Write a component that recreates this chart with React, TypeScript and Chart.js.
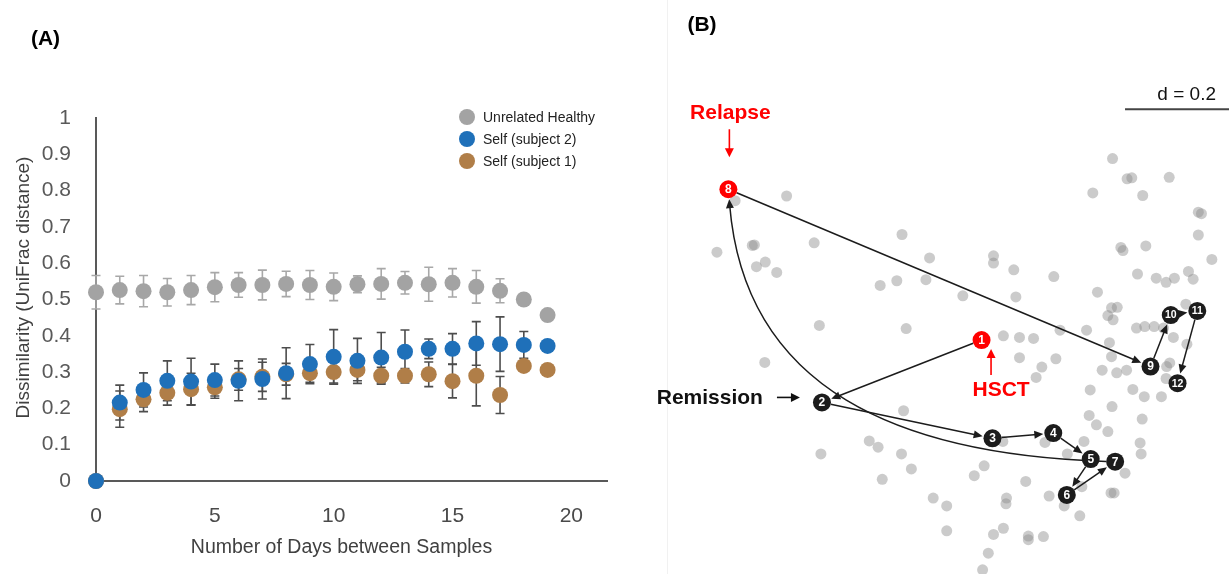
import { useEffect, useRef } from "react";
import { Chart, registerables } from "chart.js";

Chart.register(...registerables);

// ---------- (A) dissimilarity versus time between samples ----------
const days = [0, 1, 2, 3, 4, 5, 6, 7, 8, 9, 10, 11, 12, 13, 14, 15, 16, 17, 18, 19];
const xTickValues = [0, 5, 10, 15, 20];
const yTickValues = [0, 0.1, 0.2, 0.3, 0.4, 0.5, 0.6, 0.7, 0.8, 0.9, 1];

const healthyMean = [0.52, 0.526, 0.523, 0.52, 0.526, 0.534, 0.54, 0.54, 0.543, 0.54, 0.535, 0.542, 0.543, 0.546, 0.542, 0.546, 0.535, 0.524, 0.5, 0.457];
const healthySd = [0.046, 0.038, 0.043, 0.038, 0.04, 0.04, 0.034, 0.041, 0.035, 0.04, 0.038, 0.023, 0.042, 0.031, 0.047, 0.039, 0.045, 0.033, null, null];

const subject2Mean = [0, 0.216, 0.251, 0.276, 0.274, 0.278, 0.276, 0.281, 0.297, 0.322, 0.342, 0.331, 0.34, 0.356, 0.364, 0.364, 0.379, 0.377, 0.375, 0.372];
const subject2Sd = [null, 0.048, 0.047, 0.055, 0.064, 0.044, 0.055, 0.055, 0.07, 0.054, 0.075, 0.062, 0.069, 0.06, 0.027, 0.042, 0.06, 0.075, 0.037, null];

const subject1Mean = [0, 0.198, 0.225, 0.243, 0.253, 0.258, 0.28, 0.287, 0.294, 0.297, 0.3, 0.306, 0.29, 0.29, 0.294, 0.275, 0.29, 0.237, 0.317, 0.306];
const subject1Sd = [null, 0.05, 0.034, 0.034, 0.044, 0.03, 0.03, 0.04, 0.03, 0.025, 0.03, 0.03, 0.023, 0.02, 0.034, 0.046, 0.083, 0.051, null, null];

// ---------- (B) PCoA ordination with the patient's time course ----------
const cohortPC1 = [
  -0.421, -0.322, -0.456, -0.388, -0.384, -0.363, -0.38, -0.341, -0.269, -0.1, -0.047, -0.142, -0.11, -0.054, -0.259, -0.092,
  -0.364, -0.097, -0.163, -0.146, -0.256, -0.101, -0.082, -0.138, -0.04, 0.305, 0.333, 0.342, 0.414, 0.267, 0.363, 0.47,
  0.476, 0.47, 0.496, 0.321, 0.325, 0.369, 0.076, 0.076, 0.115, 0.192, 0.017, 0.119, 0.276, 0.353, 0.389, 0.408,
  0.424, 0.451, 0.46, 0.303, 0.314, 0.296, 0.306, 0.446, 0.351, 0.367, 0.385, 0.403, 0.204, 0.255, 0.095, 0.126,
  0.153, 0.126, 0.196, 0.169, 0.158, 0.299, 0.303, 0.285, 0.313, 0.332, 0.422, 0.448, 0.415, 0.409, 0.408, 0.399,
  0.344, 0.366, 0.262, 0.304, 0.26, 0.274, 0.296, 0.362, 0.358, 0.36, 0.329, 0.25, 0.218, 0.175, 0.094, 0.058,
  0.039, 0.138, -0.014, 0.101, 0.1, 0.183, 0.212, 0.246, 0.302, 0.308, 0.242, -0.014, 0.076, 0.095, 0.143, 0.143,
  0.172, 0.066, 0.055,
];
const cohortPC2 = [
  0.164, 0.173, 0.065, 0.078, 0.079, 0.046, 0.037, 0.026, 0.083, 0.099, 0.054, 0.001, 0.01, 0.012, -0.076, -0.082,
  -0.147, -0.24, -0.298, -0.31, -0.323, -0.323, -0.352, -0.372, -0.408, 0.245, 0.206, 0.208, 0.209, 0.179, 0.174, 0.142,
  0.139, 0.098, 0.051, 0.074, 0.068, 0.077, 0.058, 0.044, 0.031, 0.018, -0.019, -0.021, -0.012, 0.023, 0.015, 0.007,
  0.015, 0.028, 0.013, -0.042, -0.041, -0.057, -0.065, -0.035, -0.081, -0.078, -0.078, -0.081, -0.085, -0.085, -0.096, -0.099,
  -0.101, -0.138, -0.14, -0.156, -0.176, -0.109, -0.136, -0.162, -0.167, -0.162, -0.099, -0.112, -0.148, -0.155, -0.178, -0.213,
  -0.199, -0.213, -0.2, -0.232, -0.249, -0.267, -0.28, -0.256, -0.302, -0.323, -0.36, -0.299, -0.323, -0.301, -0.299, -0.346,
  -0.365, -0.376, -0.423, -0.408, -0.419, -0.404, -0.423, -0.386, -0.398, -0.398, -0.442, -0.471, -0.478, -0.466, -0.481, -0.488,
  -0.482, -0.514, -0.546,
];

const patientSample = ["1", "2", "3", "4", "5", "6", "7", "8", "9", "10", "11", "12"];
const patientPC1 = [0.053, -0.254, 0.074, 0.191, 0.263, 0.217, 0.31, -0.434, 0.378, 0.417, 0.468, 0.43];
const patientPC2 = [-0.104, -0.224, -0.293, -0.283, -0.333, -0.402, -0.338, 0.186, -0.155, -0.056, -0.048, -0.187];
// Bezier handles (PC1, PC2) for the step that leaves sample 7
const curvedStepFrom = ["7"];
const curvedStepHandles = [[[-0.104, -0.325], [-0.402, -0.2]]];

const eventLabels = ["HSCT", "Remission", "Relapse"];
const eventSamples = ["1", "2", "8"];
const eventColors = ["#ff0000", "#111111", "#ff0000"];

const scaleBarLength = 0.2;
const scaleBarStart = [0.329, 0.34];

// ---------- styling ----------
const FONT = "'Liberation Sans', Arial, Helvetica, sans-serif";
const AXIS = "#595959";
const GRAY = "#a3a3a3";
const BLUE = "#1f70b9";
const BROWN = "#b07e48";
const TRACK = "#1c1c1c";

type AnyChart = any;

const errorBarPlugin = {
  id: "errorBars",
  beforeDatasetsDraw(chart: AnyChart) {
    const ctx = chart.ctx;
    const xs = chart.scales.x;
    const ys = chart.scales.y;
    ctx.save();
    chart.data.datasets.forEach((ds: any) => {
      const errs: (number | null)[] = ds.errors;
      ctx.strokeStyle = ds.errorColor;
      ctx.lineWidth = 1.6;
      ds.data.forEach((pt: any, i: number) => {
        const e = errs[i];
        if (e == null) return;
        const px = xs.getPixelForValue(pt.x);
        const yTop = ys.getPixelForValue(pt.y + e);
        const yBot = ys.getPixelForValue(pt.y - e);
        ctx.beginPath();
        ctx.moveTo(px, yTop);
        ctx.lineTo(px, yBot);
        ctx.moveTo(px - 4.5, yTop);
        ctx.lineTo(px + 4.5, yTop);
        ctx.moveTo(px - 4.5, yBot);
        ctx.lineTo(px + 4.5, yBot);
        ctx.stroke();
      });
    });
    ctx.restore();
  },
};

const panelADecor = {
  id: "panelADecor",
  afterDraw(chart: AnyChart) {
    const ctx = chart.ctx;
    const area = chart.chartArea;
    ctx.save();
    // legend
    ctx.font = `14px ${FONT}`;
    ctx.textAlign = "left";
    ctx.textBaseline = "middle";
    chart.data.datasets.forEach((ds: any, i: number) => {
      const cx = area.right - 140;
      const cy = area.top - 1 + i * 22;
      ctx.fillStyle = ds.backgroundColor;
      ctx.beginPath();
      ctx.arc(cx, cy, 8, 0, Math.PI * 2);
      ctx.fill();
      ctx.fillStyle = "#222";
      ctx.fillText(ds.label, cx + 16, cy + 1);
    });
    // axis titles
    ctx.fillStyle = "#404040";
    ctx.font = `19.5px ${FONT}`;
    ctx.textAlign = "center";
    ctx.textBaseline = "alphabetic";
    ctx.fillText("Number of Days between Samples", (area.left + area.right) / 2 - 10, area.bottom + 72);
    ctx.font = `19px ${FONT}`;
    ctx.save();
    ctx.translate(29, (area.top + area.bottom) / 2 - 12);
    ctx.rotate(-Math.PI / 2);
    ctx.fillText("Dissimilarity (UniFrac distance)", 0, 0);
    ctx.restore();
    // panel letter
    ctx.fillStyle = "#000";
    ctx.font = `bold 21px ${FONT}`;
    ctx.textBaseline = "middle";
    ctx.fillText("(A)", 45.5, 39);
    ctx.restore();
  },
};

function drawHead(ctx: CanvasRenderingContext2D, x: number, y: number, a: number, len: number, half: number) {
  ctx.beginPath();
  ctx.moveTo(x, y);
  ctx.lineTo(x - Math.cos(a) * len + Math.sin(a) * half, y - Math.sin(a) * len - Math.cos(a) * half);
  ctx.lineTo(x - Math.cos(a) * len - Math.sin(a) * half, y - Math.sin(a) * len + Math.cos(a) * half);
  ctx.closePath();
  ctx.fill();
}

function drawArrow(ctx: CanvasRenderingContext2D, x0: number, y0: number, x1: number, y1: number, color: string, len = 9, half = 4) {
  const a = Math.atan2(y1 - y0, x1 - x0);
  ctx.strokeStyle = color;
  ctx.fillStyle = color;
  ctx.beginPath();
  ctx.moveTo(x0, y0);
  ctx.lineTo(x1 - Math.cos(a) * len * 0.7, y1 - Math.sin(a) * len * 0.7);
  ctx.stroke();
  drawHead(ctx, x1, y1, a, len, half);
}

const R_PATIENT = 9;

const trajectoryPlugin = {
  id: "trajectory",
  beforeDatasetsDraw(chart: AnyChart) {
    const ctx = chart.ctx;
    ctx.save();
    ctx.strokeStyle = "#f1f1f1";
    ctx.lineWidth = 1;
    ctx.beginPath();
    ctx.moveTo(27.5, 0);
    ctx.lineTo(27.5, chart.height);
    ctx.stroke();
    ctx.fillStyle = "#000";
    ctx.font = `bold 21px ${FONT}`;
    ctx.textAlign = "center";
    ctx.textBaseline = "middle";
    ctx.fillText("(B)", 62, 25);
    ctx.restore();
  },
  afterDatasetDraw(chart: AnyChart, args: any) {
    if (args.index !== 1) return;
    const ctx = chart.ctx;
    const xs = chart.scales.x;
    const ys = chart.scales.y;
    const pts = patientPC1.map((v, i) => [xs.getPixelForValue(v), ys.getPixelForValue(patientPC2[i])]);
    ctx.save();
    ctx.lineWidth = 1.5;
    for (let i = 0; i < pts.length - 1; i++) {
      const [px, py] = pts[i];
      const [qx, qy] = pts[i + 1];
      const c = curvedStepFrom.indexOf(patientSample[i]);
      if (c >= 0) {
        const [h1, h2] = curvedStepHandles[c];
        const c1x = xs.getPixelForValue(h1[0]);
        const c1y = ys.getPixelForValue(h1[1]);
        const c2x = xs.getPixelForValue(h2[0]);
        const c2y = ys.getPixelForValue(h2[1]);
        const d0 = Math.hypot(c1x - px, c1y - py);
        const sx = px + ((c1x - px) / d0) * R_PATIENT;
        const sy = py + ((c1y - py) / d0) * R_PATIENT;
        const d1 = Math.hypot(c2x - qx, c2y - qy);
        const ex = qx + ((c2x - qx) / d1) * (R_PATIENT + 1);
        const ey = qy + ((c2y - qy) / d1) * (R_PATIENT + 1);
        const a = Math.atan2(ey - c2y, ex - c2x);
        ctx.strokeStyle = TRACK;
        ctx.fillStyle = TRACK;
        ctx.beginPath();
        ctx.moveTo(sx, sy);
        ctx.bezierCurveTo(c1x, c1y, c2x, c2y, ex - Math.cos(a) * 6, ey - Math.sin(a) * 6);
        ctx.stroke();
        drawHead(ctx, ex, ey, a, 9, 4);
      } else {
        const d = Math.hypot(qx - px, qy - py);
        const ux = (qx - px) / d;
        const uy = (qy - py) / d;
        drawArrow(ctx, px + ux * R_PATIENT, py + uy * R_PATIENT, qx - ux * (R_PATIENT + 1), qy - uy * (R_PATIENT + 1), TRACK);
      }
    }
    ctx.restore();
  },
  afterDatasetsDraw(chart: AnyChart) {
    const ctx = chart.ctx;
    const xs = chart.scales.x;
    const ys = chart.scales.y;
    ctx.save();
    // sample numbers
    ctx.fillStyle = "#fff";
    ctx.textAlign = "center";
    ctx.textBaseline = "middle";
    patientSample.forEach((s, i) => {
      const x = xs.getPixelForValue(patientPC1[i]);
      const y = ys.getPixelForValue(patientPC2[i]);
      ctx.font = `bold ${s.length > 1 ? 10.5 : 12}px ${FONT}`;
      ctx.fillText(s, x, y + 0.5);
    });
    // clinical events
    ctx.lineWidth = 1.6;
    eventLabels.forEach((label, k) => {
      const i = patientSample.indexOf(eventSamples[k]);
      const x = xs.getPixelForValue(patientPC1[i]);
      const y = ys.getPixelForValue(patientPC2[i]);
      const color = eventColors[k];
      ctx.fillStyle = color;
      ctx.font = `bold 21px ${FONT}`;
      ctx.textBaseline = "middle";
      if (label === "Relapse") {
        ctx.textAlign = "center";
        ctx.fillText(label, x + 2, y - 76);
        drawArrow(ctx, x + 1, y - 60, x + 1, y - 32, color, 9, 4.5);
      } else if (label === "HSCT") {
        ctx.textAlign = "center";
        ctx.fillText(label, x + 19.5, y + 50);
        drawArrow(ctx, x + 9.5, y + 35, x + 9.5, y + 9, color, 9, 4.5);
      } else {
        ctx.textAlign = "right";
        ctx.fillStyle = color;
        ctx.fillText(label, x - 59, y - 4);
        drawArrow(ctx, x - 45, y - 5, x - 22, y - 5, color, 9, 4.5);
      }
    });
    // scale bar
    const bx0 = xs.getPixelForValue(scaleBarStart[0]);
    const bx1 = xs.getPixelForValue(scaleBarStart[0] + scaleBarLength);
    const by = ys.getPixelForValue(scaleBarStart[1]);
    ctx.strokeStyle = "#444";
    ctx.lineWidth = 2;
    ctx.beginPath();
    ctx.moveTo(bx0, by);
    ctx.lineTo(bx1, by);
    ctx.stroke();
    ctx.fillStyle = "#111";
    ctx.font = `19px ${FONT}`;
    ctx.textAlign = "right";
    ctx.textBaseline = "middle";
    ctx.fillText(`d = ${scaleBarLength}`, bx1 - 13, by - 14);
    ctx.restore();
  },
};

function PanelA() {
  const ref = useRef<HTMLCanvasElement>(null);
  useEffect(() => {
    const series = [
      { label: "Unrelated Healthy", mean: healthyMean, sd: healthySd, color: GRAY, errorColor: "#a8a8a8" },
      { label: "Self (subject 2)", mean: subject2Mean, sd: subject2Sd, color: BLUE, errorColor: "#4d4d4d" },
      { label: "Self (subject 1)", mean: subject1Mean, sd: subject1Sd, color: BROWN, errorColor: "#4d4d4d" },
    ];
    const tickFont = { family: FONT, size: 21 };
    const chart = new Chart(ref.current as HTMLCanvasElement, {
      type: "scatter",
      data: {
        datasets: series.map((s) => ({
          label: s.label,
          data: days.map((d, i) => ({ x: d, y: s.mean[i] })),
          backgroundColor: s.color,
          borderColor: s.color,
          borderWidth: 0,
          pointRadius: 8,
          pointHoverRadius: 8,
          clip: false,
          errors: s.sd,
          errorColor: s.errorColor,
        })) as any,
      },
      options: {
        animation: false,
        responsive: false,
        devicePixelRatio: 1,
        events: [],
        layout: { padding: { top: 118, right: 33, left: 0, bottom: 0 } },
        plugins: { legend: { display: false }, tooltip: { enabled: false } },
        scales: {
          x: {
            type: "linear",
            min: 0,
            max: 21.5,
            afterBuildTicks: (s: any) => {
              s.ticks = xTickValues.map((v) => ({ value: v }));
            },
            afterFit: (s: any) => {
              s.height = 93;
            },
            grid: { display: false },
            border: { display: true, color: AXIS, width: 2 },
            ticks: { font: tickFont, color: "#4a4a4a", padding: 15, maxRotation: 0 },
          },
          y: {
            type: "linear",
            min: 0,
            max: 1,
            afterBuildTicks: (s: any) => {
              s.ticks = yTickValues.map((v) => ({ value: v }));
            },
            afterFit: (s: any) => {
              s.width = 96;
            },
            grid: { display: false },
            border: { display: true, color: AXIS, width: 2 },
            ticks: {
              font: tickFont,
              color: "#595959",
              padding: 17,
              callback: (v: any) => String(+Number(v).toFixed(1)),
            },
          },
        },
      } as any,
      plugins: [errorBarPlugin, panelADecor],
    });
    return () => chart.destroy();
  }, []);
  return <canvas ref={ref} width={640} height={574} style={{ position: "absolute", left: 0, top: 0 }} />;
}

function PanelB() {
  const ref = useRef<HTMLCanvasElement>(null);
  useEffect(() => {
    const pointColors = patientSample.map((s) => {
      const k = eventSamples.indexOf(s);
      return k >= 0 && eventColors[k] === "#ff0000" ? "#ff0000" : TRACK;
    });
    const chart = new Chart(ref.current as HTMLCanvasElement, {
      type: "scatter",
      data: {
        datasets: [
          {
            label: "Patient",
            data: patientPC1.map((v, i) => ({ x: v, y: patientPC2[i] })),
            backgroundColor: pointColors,
            borderWidth: 0,
            pointRadius: R_PATIENT,
            pointHoverRadius: R_PATIENT,
            clip: false,
          },
          {
            label: "Other samples",
            data: cohortPC1.map((v, i) => ({ x: v, y: cohortPC2[i] })),
            backgroundColor: "rgba(140,140,140,0.45)",
            borderWidth: 0,
            pointRadius: 5.5,
            pointHoverRadius: 5.5,
            clip: false,
          },
        ],
      },
      options: {
        animation: false,
        responsive: false,
        devicePixelRatio: 1,
        events: [],
        layout: { padding: 0, autoPadding: false },
        plugins: { legend: { display: false }, tooltip: { enabled: false } },
        scales: {
          x: { type: "linear", min: -0.604, max: 0.529, display: false },
          y: { type: "linear", min: -0.554, max: 0.55, display: false },
        },
      } as any,
      plugins: [trajectoryPlugin],
    });
    return () => chart.destroy();
  }, []);
  return <canvas ref={ref} width={589} height={574} style={{ position: "absolute", left: 640, top: 0 }} />;
}

export default function App() {
  return (
    <div style={{ position: "fixed", left: 0, top: 0, width: 1229, height: 574, background: "#fff", overflow: "hidden" }}>
      <PanelA />
      <PanelB />
    </div>
  );
}
